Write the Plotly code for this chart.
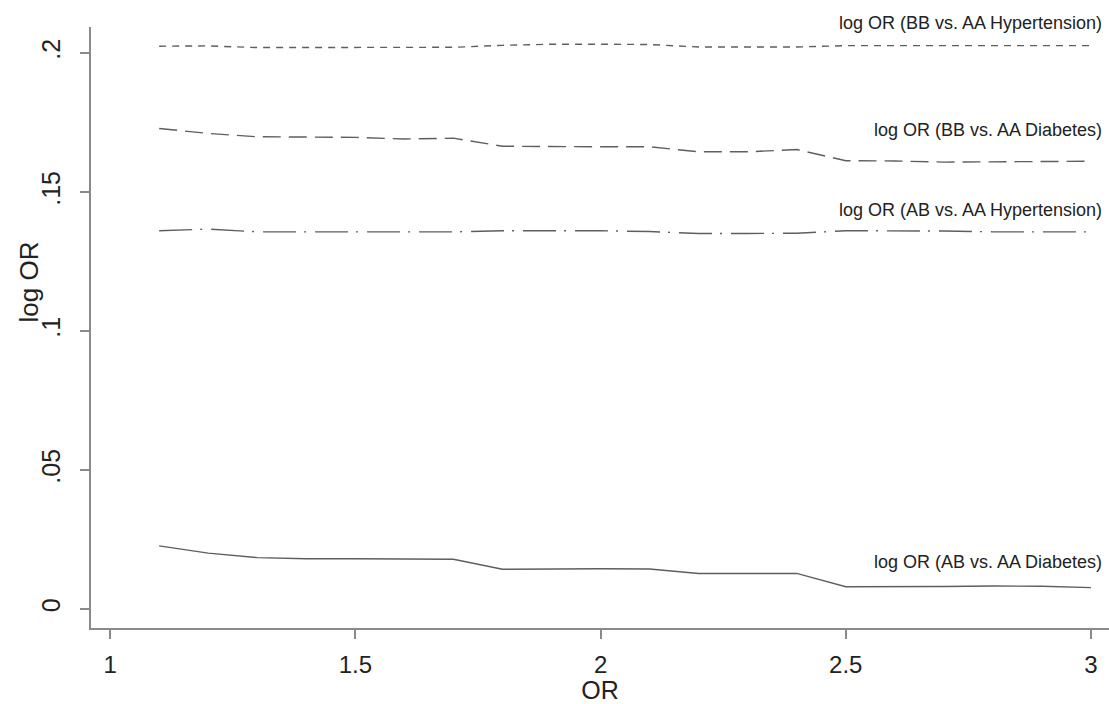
import plotly.graph_objects as go

odds_ratio = [1.1, 1.2, 1.3, 1.4, 1.5, 1.6, 1.7, 1.8, 1.9, 2.0,
              2.1, 2.2, 2.3, 2.4, 2.5, 2.6, 2.7, 2.8, 2.9, 3.0]

bb_hypertension = [0.2025, 0.2026, 0.2020, 0.2020, 0.2020, 0.2020, 0.2021, 0.2028, 0.2032, 0.2032,
                   0.2031, 0.2022, 0.2022, 0.2022, 0.2027, 0.2027, 0.2027, 0.2027, 0.2027, 0.2027]
bb_diabetes = [0.1729, 0.1711, 0.1699, 0.1699, 0.1697, 0.1691, 0.1694, 0.1665, 0.1663, 0.1663,
               0.1663, 0.1645, 0.1645, 0.1653, 0.1613, 0.1612, 0.1608, 0.1609, 0.1612, 0.1611]
ab_hypertension = [0.1361, 0.1367, 0.1357, 0.1357, 0.1357, 0.1357, 0.1357, 0.1361, 0.1361, 0.1361,
                   0.1358, 0.1351, 0.1351, 0.1352, 0.1361, 0.1361, 0.1360, 0.1357, 0.1357, 0.1357]
ab_diabetes = [0.0227, 0.0201, 0.0185, 0.0181, 0.0181, 0.0179, 0.0179, 0.0143, 0.0145, 0.0145,
               0.0144, 0.0128, 0.0128, 0.0128, 0.0080, 0.0080, 0.0081, 0.0083, 0.0082, 0.0077]

series_labels = ["log OR (BB vs. AA Hypertension)", "log OR (BB vs. AA Diabetes)",
                 "log OR (AB vs. AA Hypertension)", "log OR (AB vs. AA Diabetes)"]
x_ticks = [1, 1.5, 2, 2.5, 3]
x_tick_text = ["1", "1.5", "2", "2.5", "3"]
y_ticks = [0, 0.05, 0.1, 0.15, 0.2]
y_tick_text = ["0", ".05", ".1", ".15", ".2"]

series = [bb_hypertension, bb_diabetes, ab_hypertension, ab_diabetes]
dashes = ["7px,6px", "18px,8px", "33px,8px,2px,9px", "solid"]
label_shifts = [23, 31, 22, 26]

LINE_COLOR = "#5e5e5e"
AXIS_COLOR = "#8a8a8a"
TEXT_COLOR = "#222222"
FONT = "Liberation Sans, Arial, sans-serif"

fig = go.Figure()
for vals, dash, name in zip(series, dashes, series_labels):
    fig.add_trace(go.Scatter(x=odds_ratio, y=vals, mode="lines", name=name,
                             line=dict(color=LINE_COLOR, width=1.4, dash=dash),
                             showlegend=False))

for vals, name, shift in zip(series, series_labels, label_shifts):
    fig.add_annotation(x=3.027, y=vals[-1], yshift=shift, text=name, showarrow=False,
                       xanchor="right", yanchor="middle", xref="x", yref="y",
                       font=dict(family=FONT, size=18, color=TEXT_COLOR))

# y-axis title as rotated annotation
fig.add_annotation(x=0, xref="paper", xshift=-62, y=0.575, yref="paper", text="log OR",
                   textangle=-90, showarrow=False, xanchor="center", yanchor="middle",
                   font=dict(family=FONT, size=26, color=TEXT_COLOR))

fig.update_layout(
    width=1109, height=704,
    margin=dict(l=91, r=0, t=27, b=76),
    paper_bgcolor="white", plot_bgcolor="white",
    font=dict(family=FONT, color=TEXT_COLOR),
    xaxis=dict(range=[0.961, 3.0367], tickvals=x_ticks, ticktext=x_tick_text,
               showgrid=False, zeroline=False, showline=True, linecolor=AXIS_COLOR,
               linewidth=1.5, ticks="outside", ticklen=9, tickcolor=AXIS_COLOR, tickwidth=1.5,
               ticklabelstandoff=5,
               tickfont=dict(size=24, family=FONT, color=TEXT_COLOR),
               title=dict(text="OR", font=dict(size=25, family=FONT, color=TEXT_COLOR), standoff=0)),
    yaxis=dict(range=[-0.00683, 0.2094], tickvals=y_ticks, ticktext=y_tick_text,
               showgrid=False, zeroline=False, showline=True, linecolor=AXIS_COLOR,
               linewidth=1.5, ticks="outside", ticklen=9, tickcolor=AXIS_COLOR, tickwidth=1.5,
               tickangle=-90, ticklabelstandoff=10,
               tickfont=dict(size=25, family=FONT, color=TEXT_COLOR)),
)

fig.write_html("out.html", config={"displayModeBar": False},
               post_script="document.body.style.margin='0';")
